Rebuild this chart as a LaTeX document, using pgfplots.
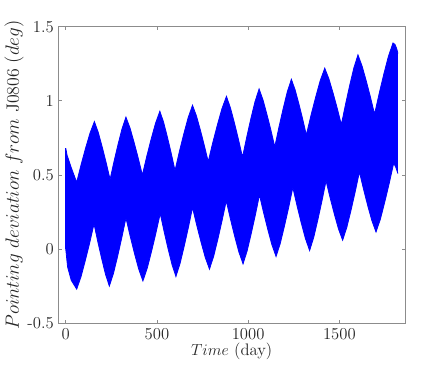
\documentclass[border=0pt]{standalone}
\usepackage{pgfplots}
\pgfplotsset{compat=1.18}
\usepgfplotslibrary{fillbetween}
\usepackage{pgfplotstable}
\definecolor{axgray}{RGB}{140,140,140}
\pgfplotstableread{
day val
0 0.68
8 0.63
30 0.55
60 0.45
84 0.569
108.5 0.680
133 0.782
157 0.86
178.5 0.786
200 0.688
221.5 0.583
243 0.47
264.75 0.592
286.5 0.705
308.25 0.810
330 0.89
352.5 0.816
375 0.718
397.5 0.613
420 0.50
444 0.625
468 0.741
492 0.848
516 0.93
536.75 0.854
557.5 0.754
578.25 0.646
599 0.53
623 0.658
647 0.776
671 0.886
695 0.97
716.5 0.898
738 0.803
759.5 0.700
781 0.59
806 0.718
831 0.836
856 0.946
881 1.03
903 0.952
925 0.850
947 0.739
969 0.62
991.75 0.753
1014.5 0.878
1037.25 0.993
1060 1.08
1081.5 1.006
1103 0.908
1124.5 0.803
1146 0.69
1168.75 0.822
1191.5 0.945
1214.25 1.059
1237 1.145
1257.5 1.074
1278 0.980
1298.5 0.879
1319 0.77
1344.25 0.901
1369.5 1.022
1394.75 1.135
1420 1.22
1442.75 1.148
1465.5 1.053
1488.25 0.950
1511 0.84
1533.75 0.976
1556.5 1.103
1579.25 1.221
1602 1.31
1624.75 1.234
1647.5 1.134
1670.25 1.026
1693 0.91
1718.25 1.049
1743.5 1.179
1768.75 1.299
1794 1.39
1805 1.38
1815 1.35
1821 1.32
}\upperenv
\pgfplotstableread{
day val
0 0.0
10 -0.12
30 -0.21
60 -0.27
83.75 -0.186
107.5 -0.076
131.25 0.042
155 0.17
176 0.048
197 -0.065
218 -0.170
239 -0.25
261.75 -0.163
284.5 -0.048
307.25 0.077
330 0.21
353.25 0.087
376.5 -0.028
399.75 -0.134
423 -0.215
446.75 -0.129
470.5 -0.015
494.25 0.108
518 0.24
539.5 0.117
561 0.002
582.5 -0.104
604 -0.185
626.75 -0.097
649.5 0.020
672.25 0.145
695 0.28
718.25 0.160
741.5 0.048
764.75 -0.056
788 -0.135
811 -0.048
834 0.067
857 0.192
880 0.325
903 0.202
926 0.087
949 -0.019
972 -0.10
994.5 -0.012
1017 0.105
1039.5 0.230
1062 0.365
1084.75 0.245
1107.5 0.133
1130.25 0.029
1153 -0.05
1176 0.038
1199 0.155
1222 0.280
1245 0.415
1268 0.292
1291 0.177
1314 0.071
1337 -0.01
1359.5 0.079
1382 0.197
1404.5 0.324
1427 0.46
1449.75 0.344
1472.5 0.236
1495.25 0.136
1518 0.06
1541 0.147
1564 0.262
1587 0.387
1610 0.52
1632.75 0.403
1655.5 0.293
1678.25 0.192
1701 0.115
1725.25 0.203
1749.5 0.320
1773.75 0.445
1798 0.58
1810 0.55
1821 0.51
}\lowerenv
\begin{document}
\begin{tikzpicture}
\begin{axis}[
  name=ax,
  scale only axis,
  width=260pt, height=222.5pt,
  xmin=-40, xmax=1860, ymin=-0.5, ymax=1.5,
  xtick={0,500,1000,1500},
  xticklabels={0,500,1000,1500},
  ytick={-0.5,0,0.5,1,1.5},
  yticklabels={-0.5,0,0.5,1,1.5},
  tick align=inside,
  major tick length=2.5pt,
  axis line style={axgray, line width=0.5pt},
  tick style={axgray, line width=0.5pt},
  every tick label/.append style={font=\fontsize{12.5}{14}\selectfont, text=black!85},
  label style={font=\fontsize{12.5}{14}\selectfont, text=black!85},
  xlabel={$Time$ (day)},
  ylabel={$Pointing\ deviation\ from$ J0806 $(deg)$},
  xlabel style={yshift=4pt},
  ylabel style={yshift=-4pt, font=\fontsize{13.4}{15}\selectfont},
  clip=true,
]
\addplot[name path=U, blue, line width=0.6pt] table[x=day,y=val] {\upperenv};
\addplot[name path=L, blue, line width=0.6pt] table[x=day,y=val] {\lowerenv};
\addplot[blue, draw=none] fill between[of=U and L];
\addplot[blue, line width=0.6pt] coordinates {(0,0) (0,0.68)};
\end{axis}
\useasboundingbox ([xshift=-43.7pt,yshift=-35.8pt]ax.south west) rectangle ([xshift=31.5pt,yshift=20pt]ax.north east);
\end{tikzpicture}
\end{document}
